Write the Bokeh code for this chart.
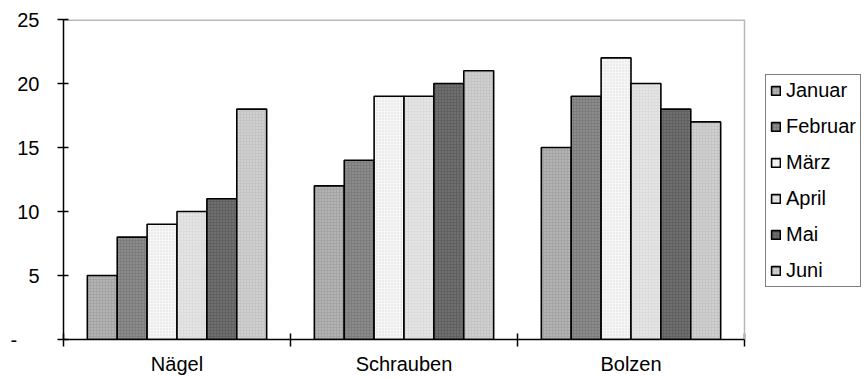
from bokeh.plotting import figure
from bokeh.models import ColumnDataSource, FixedTicker, Range1d, Legend, LegendItem, Span
from bokeh.embed import file_html
from bokeh.resources import INLINE

categories = ["Nägel", "Schrauben", "Bolzen"]
months = ["Januar", "Februar", "März", "April", "Mai", "Juni"]
values = {
    "Januar":  [5, 12, 15],
    "Februar": [8, 14, 19],
    "März":    [9, 19, 22],
    "April":   [10, 19, 20],
    "Mai":     [11, 20, 18],
    "Juni":    [18, 21, 17],
}
y_ticks = [0, 5, 10, 15, 20, 25]

fills = ["#a4a4a4", "#7c7c7c", "#f6f6f6", "#dcdcdc", "#606060", "#c4c4c4"]
hatch_cols = ["#d0d0d0", "#a8a8a8", "#d8d8d8", "#f4f4f4", "#8c8c8c", "#e4e4e4"]

FONT = "Liberation Sans"
FS = "20px"

W, H = 868, 378
left, top_b, bottom_b = 63, 19, 39
plot_right = 744  # pixel where the plot area ends
ncat = len(categories)
ymax = y_ticks[-1]
x_end = ncat * (W - left) / (plot_right - left)

p = figure(width=W, height=H, output_backend="svg", toolbar_location=None,
           x_range=Range1d(0, x_end), y_range=Range1d(0, ymax),
           min_border_left=left, min_border_right=0, min_border_top=top_b,
           min_border_bottom=bottom_b)
p.xgrid.visible = False
p.ygrid.visible = False
p.outline_line_color = None
p.background_fill_color = "white"
p.border_fill_color = "white"

# gray plot-area border (top and right)
p.add_layout(Span(location=ncat, dimension="height", line_color="#b8b8b8", line_width=1.5))
p.segment(x0=[0], y0=[ymax], x1=[ncat], y1=[ymax], line_color="#b8b8b8", line_width=3)

group_frac = 0.79
bw = group_frac / len(months)
items = []
for i, m in enumerate(months):
    xs = [ci + 0.5 + (i - (len(months) - 1) / 2) * bw for ci in range(ncat)]
    src = ColumnDataSource(dict(x=xs, top=values[m]))
    r = p.vbar(x="x", top="top", width=bw, bottom=0, source=src,
               fill_color=fills[i], line_color="black", line_width=1.6,
               hatch_pattern="dot", hatch_color=hatch_cols[i], hatch_scale=3,
               hatch_weight=1, hatch_alpha=0.9)
    items.append(LegendItem(label=m, renderers=[r]))

# x axis
xa = p.xaxis[0]
xa.bounds = (0, ncat)
xa.ticker = FixedTicker(ticks=[c + 0.5 for c in range(ncat)],
                        minor_ticks=list(range(ncat + 1)))
xa.major_label_overrides = {c + 0.5: name for c, name in enumerate(categories)}
xa.major_tick_in = 0
xa.major_tick_out = 0
xa.minor_tick_in = 6
xa.minor_tick_out = 7
xa.minor_tick_line_color = "black"
xa.minor_tick_line_width = 1.5
xa.axis_line_color = "black"
xa.axis_line_width = 1.5
xa.major_label_standoff = 6
xa.major_label_text_font = FONT
xa.major_label_text_font_size = FS
xa.major_label_text_color = "black"

# y axis
ya = p.yaxis[0]
ya.ticker = FixedTicker(ticks=y_ticks, minor_ticks=[])
ya.major_label_overrides = {0: "-" + "\u00a0" * 4}
ya.major_tick_in = 5
ya.major_tick_out = 6
ya.major_tick_line_color = "black"
ya.major_tick_line_width = 1.5
ya.axis_line_color = "black"
ya.axis_line_width = 1.5
ya.major_label_standoff = 18
ya.major_label_text_font = FONT
ya.major_label_text_font_size = FS
ya.major_label_text_color = "black"

legend = Legend(items=items, location=(765 - left, H - bottom_b - 287))
legend.border_line_color = "black"
legend.border_line_width = 1.2
legend.background_fill_color = "white"
legend.background_fill_alpha = 1
legend.label_text_font = FONT
legend.label_text_font_size = FS
legend.label_text_color = "black"
legend.glyph_width = 11
legend.glyph_height = 11
legend.label_standoff = 5
legend.label_height = 18
legend.spacing = 13
legend.padding = 4
legend.margin = 0
p.add_layout(legend)

open("out.html", "w").write(file_html(p, INLINE))
